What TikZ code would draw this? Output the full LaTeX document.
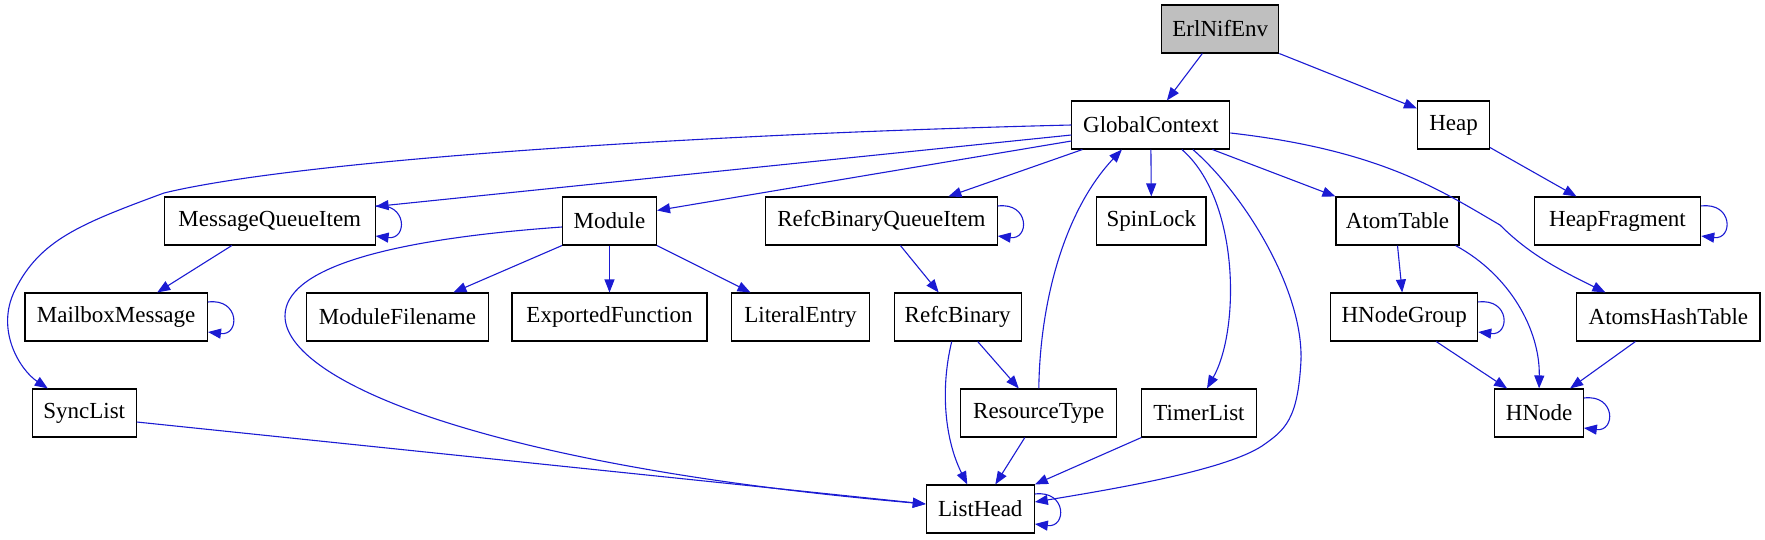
\documentclass[tikz,border=0pt]{standalone}
\usepackage{fontspec}
\setmainfont{Liberation Serif}
\usepackage{tikz}
\usetikzlibrary{arrows.meta}
\definecolor{edgeblue}{RGB}{27,27,211}

\begin{document}
\begin{tikzpicture}[
    x=1pt, y=-1pt,
    cls/.style={draw=black, line width=1.1pt, minimum height=48pt, inner sep=0pt, font=\fontsize{23}{28}\selectfont},
    arr/.style={draw=edgeblue, line width=1.1pt, -{Triangle[length=13pt,width=10pt]}},
    selfloop/.style={to path={.. controls +(32,-4) and +(32,4) .. (\tikztotarget)}}
]
\useasboundingbox (0,0) rectangle (1765,539);

\node[cls, fill=black!25, minimum width=117pt] (env) at (1220.3,29) {ErlNifEnv};

\node[cls, minimum width=158pt] (gctx) at (1150.9,125) {GlobalContext};
\node[cls, minimum width=72pt] (heap) at (1453.5,125) {Heap};

\node[cls, minimum width=210.5pt] (mqi) at (269.8,221) {MessageQueueItem};
\node[cls, minimum width=94pt] (module) at (609.5,221) {Module};
\node[cls, minimum width=231.5pt] (rbqi) at (881.4,221) {RefcBinaryQueueItem};
\node[cls, minimum width=109.3pt] (spin) at (1151.3,221) {SpinLock};
\node[cls, minimum width=123pt] (atab) at (1397.5,221) {AtomTable};
\node[cls, minimum width=166.4pt] (hfrag) at (1617.5,221) {HeapFragment};

\node[cls, minimum width=182.5pt] (mbox) at (116.2,317) {MailboxMessage};
\node[cls, minimum width=181.8pt] (mfile) at (397.4,317) {ModuleFilename};
\node[cls, minimum width=195pt] (expfn) at (609.5,317) {ExportedFunction};
\node[cls, minimum width=138.5pt] (lit) at (800.5,317) {LiteralEntry};
\node[cls, minimum width=127pt] (rbin) at (957.7,317) {RefcBinary};
\node[cls, minimum width=147pt] (hgrp) at (1404.2,317) {HNodeGroup};
\node[cls, minimum width=183.2pt] (aht) at (1668.4,317) {AtomsHashTable};

\node[cls, minimum width=104.1pt] (sync) at (84.2,413) {SyncList};
\node[cls, minimum width=156pt] (rtype) at (1038.8,413) {ResourceType};
\node[cls, minimum width=114.3pt] (tlist) at (1199,413) {TimerList};
\node[cls, minimum width=88.4pt] (hnode) at (1539.1,413) {HNode};

\node[cls, minimum width=108pt] (lhead) at (980.3,509) {ListHead};

\draw[arr] ([xshift=-18pt]env.south) -- ([xshift=16pt]gctx.north);
\draw[arr] (env.south east) -- ([yshift=-8pt]heap.north west);
\draw[arr] ([yshift=2pt]heap.south east) -- ([xshift=-41pt]hfrag.north);
\draw[arr] ([yshift=15pt]hfrag.east) to[selfloop] ([yshift=-15pt]hfrag.east);

\draw[arr] (gctx.west) .. controls (700,134) and (300,160) .. (164,193)
    .. controls (80,224) and (40,240) .. (15,290)
    .. controls (-5,330) and (20,370) .. (sync.146);
\draw[arr] ([yshift=-10pt]gctx.west) -- ([yshift=-10pt]mqi.north east);
\draw[arr] ([yshift=-16pt]gctx.west) -- ([yshift=-14pt]module.north east);
\draw[arr] ([xshift=11pt]gctx.south west) -- ([xshift=67pt]rbqi.north);
\draw[arr] (gctx.south) -- (spin.north);
\draw[arr] ([xshift=31pt]gctx.south) .. controls (1240,200) and (1240,330) .. ([xshift=8pt]tlist.north);
\draw[arr] ([xshift=42pt]gctx.south) .. controls (1245,195) and (1303,290) .. (1301,360)
    .. controls (1298,420) and (1285,430) .. (1262,446)
    .. controls (1225,470) and (1120,488) .. ([yshift=7pt]lhead.east);
\draw[arr] ([xshift=-18pt]gctx.south east) -- (atab.north west);
\draw[arr] ([yshift=-8pt]gctx.east) .. controls (1380,150) and (1440,190) .. (1500,225)
    .. controls (1530,255) and (1560,270) .. ([xshift=-63pt]aht.north);

\draw[arr] ([yshift=15pt]mqi.east) to[selfloop] ([yshift=-15pt]mqi.east);
\draw[arr] ([xshift=-38pt]mqi.south) -- ([xshift=41pt]mbox.north);
\draw[arr] ([yshift=15pt]mbox.east) to[selfloop] ([yshift=-15pt]mbox.east);

\draw[arr] (module.south west) -- ([xshift=56pt]mfile.north);
\draw[arr] (module.south) -- (expfn.north);
\draw[arr] (module.south east) -- ([xshift=-50pt]lit.north);
\draw[arr] ([yshift=-6pt]module.west) .. controls (380,240) and (285,270) .. (285,316)
    .. controls (285,380) and (480,465) .. ([yshift=5pt]lhead.west);

\draw[arr] ([yshift=15pt]rbqi.east) to[selfloop] ([yshift=-15pt]rbqi.east);
\draw[arr] ([xshift=19pt]rbqi.south) -- ([xshift=-19pt]rbin.north);
\draw[arr] ([xshift=20pt]rbin.south) -- ([xshift=-20pt]rtype.north);
\draw[arr] ([xshift=-6pt]rbin.south) .. controls (940,390) and (945,440) .. ([xshift=-13pt]lhead.north);
\draw[arr] (rtype.north) .. controls (1040,300) and (1065,210) .. ([xshift=-29pt]gctx.south);
\draw[arr] ([xshift=-14pt]rtype.south) -- ([xshift=15pt]lhead.north);
\draw[arr] (tlist.south west) -- (lhead.north east);
\draw[arr] ([yshift=-9pt]sync.east) -- ([yshift=5pt]lhead.west);
\draw[arr] ([yshift=15pt]lhead.east) to[selfloop] ([yshift=-15pt]lhead.east);

\draw[arr] (atab.south) -- ([xshift=-2pt]hgrp.north);
\draw[arr] ([xshift=-4pt]atab.south east) .. controls (1510,275) and (1540,330) .. (hnode.north);
\draw[arr] ([yshift=15pt]hgrp.east) to[selfloop] ([yshift=-15pt]hgrp.east);
\draw[arr] ([xshift=32pt]hgrp.south) -- ([xshift=-32pt]hnode.north);
\draw[arr] ([xshift=-33pt]aht.south) -- ([xshift=31pt]hnode.north);
\draw[arr] ([yshift=15pt]hnode.east) to[selfloop] ([yshift=-15pt]hnode.east);
\end{tikzpicture}
\end{document}
